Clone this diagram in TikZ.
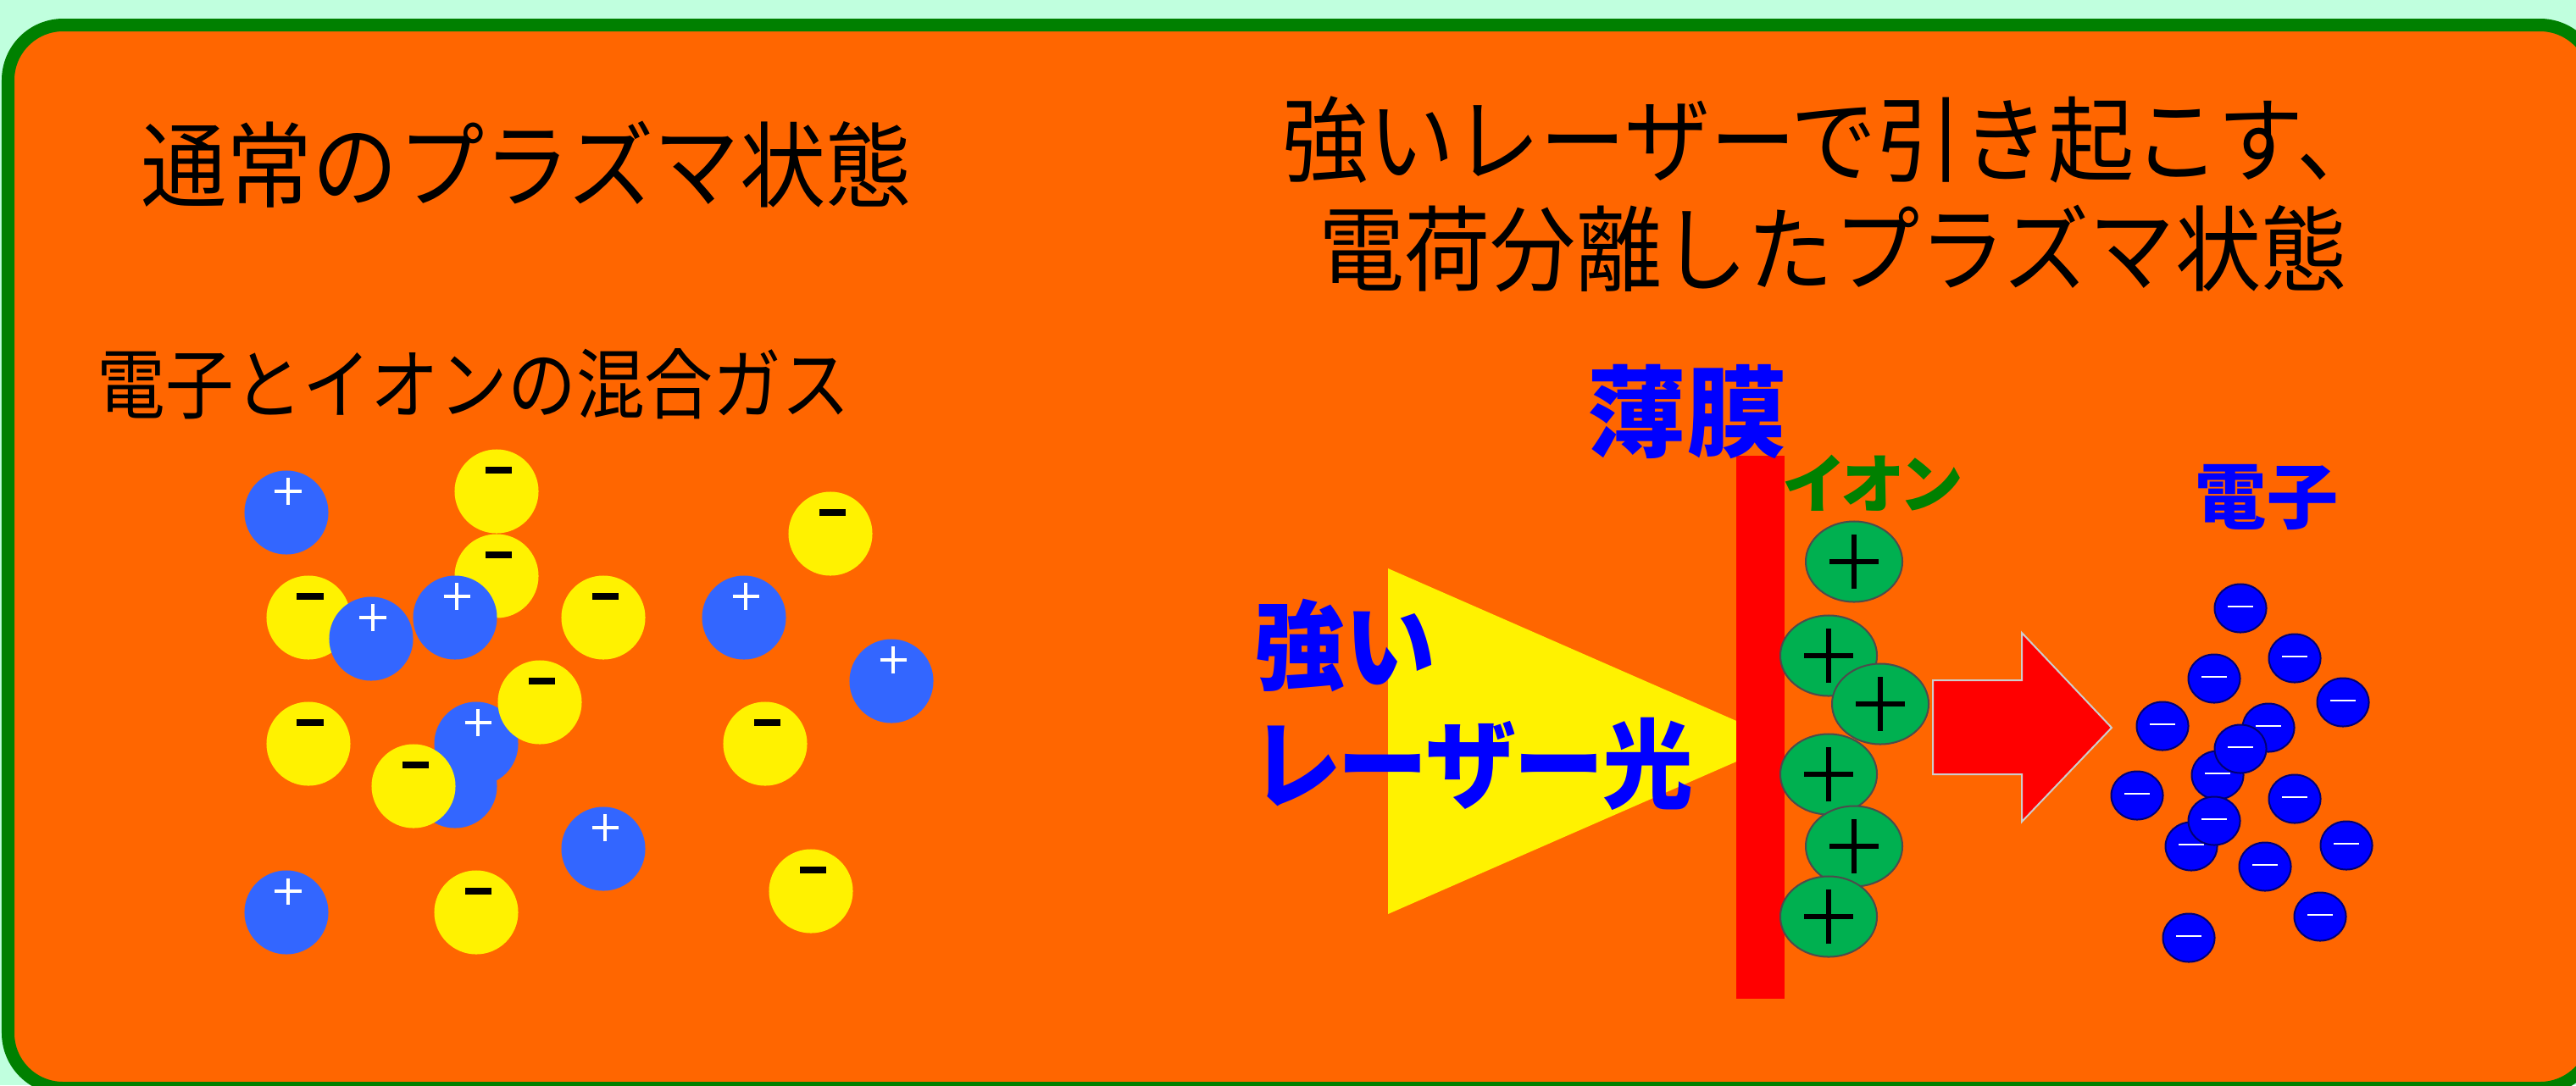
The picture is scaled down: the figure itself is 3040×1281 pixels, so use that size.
\documentclass[tikz,border=0pt]{standalone}
\usepackage{fontspec}
\usetikzlibrary{shapes.geometric}

\newfontfamily\jptitle[FakeStretch=0.92]{Noto Sans CJK JP}
\newfontfamily\jpsub[FakeStretch=0.89]{Noto Sans CJK JP}
\newfontfamily\jplabel[RawFeature=+palt]{Noto Sans CJK JP}
\newfontfamily\jpnarrow[RawFeature=+palt, FakeStretch=0.93]{Noto Sans CJK JP}

\definecolor{mint}{RGB}{192,255,222}
\definecolor{panel}{RGB}{255,102,0}
\definecolor{rim}{RGB}{0,128,0}
\definecolor{plusblue}{RGB}{51,102,255}
\definecolor{ionfill}{RGB}{0,176,80}
\definecolor{elecblue}{RGB}{0,0,255}
\definecolor{arrowrim}{RGB}{205,205,205}

\tikzset{
  particle/.style={circle, minimum size=0.99cm, inner sep=0pt},
  cation/.style={particle, fill=plusblue, path picture={
      \draw[white, line width=0.04cm]
        ([xshift=0.02cm,yshift=0.25cm]path picture bounding box.center) +(-0.155cm,0) -- +(0.155cm,0)
        ([xshift=0.02cm,yshift=0.25cm]path picture bounding box.center) +(0,-0.155cm) -- +(0,0.155cm);}},
  anion/.style={particle, fill=yellow, path picture={
      \fill[black] ([xshift=0.02cm,yshift=0.25cm]path picture bounding box.center)
        +(-0.155cm,-0.036cm) rectangle +(0.155cm,0.036cm);}},
  ion/.style={ellipse, minimum width=1.14cm, minimum height=0.95cm, inner sep=0pt,
      fill=ionfill, draw=black!70, line width=0.02cm, path picture={
      \draw[black, line width=0.065cm]
        (path picture bounding box.center) +(-0.29cm,0) -- +(0.29cm,0)
        (path picture bounding box.center) +(0,-0.32cm) -- +(0,0.32cm);}},
  electron/.style={ellipse, minimum width=0.61cm, minimum height=0.57cm, inner sep=0pt,
      fill=elecblue, draw=blue!45!black, line width=0.02cm, path picture={
      \draw[white, line width=0.025cm]
        ([yshift=0.02cm]path picture bounding box.center) +(-0.15cm,0) -- +(0.15cm,0);}},
  heading/.style={inner sep=0pt, font=\jptitle\fontsize{31.3pt}{36.7pt}\selectfont},
  tag/.style={inner sep=0pt, font=\jplabel\bfseries},
}

\begin{document}
\begin{tikzpicture}[x=0.01cm, y=-0.01cm]
  \clip (0,0) rectangle (3040,1281);
  \fill[mint] (0,0) rectangle (3040,1281);
  \draw[fill=panel, draw=rim, line width=0.15cm, rounded corners=0.65cm]
    (9.5,29.5) rectangle (3062.5,1284.5);

  % left half: ordinary plasma
  \node[heading] (titleL) at (621,194) {通常のプラズマ状態};
  \node[inner sep=0pt, font=\jpsub\fontsize{25.8pt}{30pt}\selectfont] (gas) at (559,453)
    {電子とイオンの混合ガス};

  \node[cation] (c1) at (338,605) {};
  \node[anion] (a1) at (586,580) {};
  \node[anion] (a2) at (586,680) {};
  \node[anion] (a3) at (980,630) {};
  \node[anion] (a4) at (364,729) {};
  \node[cation] (c2) at (438,754) {};
  \node[cation] (c3) at (537,729) {};
  \node[anion] (a5) at (712,729) {};
  \node[cation] (c4) at (878,729) {};
  \node[cation] (c5) at (1052,804) {};
  \node[cation] (c7) at (537,928) {};
  \node[cation] (c6) at (562,878) {};
  \node[anion] (a6) at (637,829) {};
  \node[anion] (a7) at (364,878) {};
  \node[anion] (a8) at (488,928) {};
  \node[anion] (a9) at (903,878) {};
  \node[cation] (c8) at (712,1002) {};
  \node[anion] (a10) at (957,1052) {};
  \node[cation] (c9) at (338,1077) {};
  \node[anion] (a11) at (562,1077) {};

  % right half: charge separation by the laser
  \node[heading, align=center] (titleR) at (2163,229)
    {強いレーザーで引き起こす、\\電荷分離したプラズマ状態};

  \fill[yellow] (1638,671) -- (2104,875) -- (1638,1079) -- cycle;
  \fill[red] (2049,538) rectangle (2106,1179);

  \node[tag, text=elecblue, font=\jpnarrow\bfseries\fontsize{32.7pt}{39.8pt}\selectfont,
        align=left, anchor=west] (laser) at (1480,832) {強い\\レーザー光};
  \node[tag, text=elecblue, font=\jplabel\bfseries\fontsize{33.3pt}{40pt}\selectfont]
    (film) at (1991,486) {薄膜};
  \node[tag, text=rim, font=\jplabel\bfseries\fontsize{21.5pt}{26pt}\selectfont]
    (ionlbl) at (2210,570) {イオン};
  \node[tag, text=elecblue, font=\jplabel\bfseries\fontsize{23.9pt}{28pt}\selectfont]
    (elbl) at (2675,587) {電子};

  \node[ion] (i1) at (2188,663) {};
  \node[ion] (i2) at (2158,774) {};
  \node[ion] (i3) at (2219,831) {};
  \node[ion] (i4) at (2158,914) {};
  \node[ion] (i5) at (2188,999) {};
  \node[ion] (i6) at (2158,1082) {};

  \filldraw[fill=red, draw=arrowrim, line width=0.02cm]
    (2281,803) -- (2386,803) -- (2386,747) -- (2492,859)
    -- (2386,970) -- (2386,914) -- (2281,914) -- cycle;

  \node[electron] (e1) at (2644,718) {};
  \node[electron] (e2) at (2708,777) {};
  \node[electron] (e3) at (2613,801) {};
  \node[electron] (e4) at (2765,829) {};
  \node[electron] (e5) at (2552,857) {};
  \node[electron] (e6) at (2677,859) {};
  \node[electron] (e8) at (2617,915) {};
  \node[electron] (e7) at (2644,884) {};
  \node[electron] (e9) at (2522,939) {};
  \node[electron] (e10) at (2708,943) {};
  \node[electron] (e12) at (2586,999) {};
  \node[electron] (e11) at (2613,969) {};
  \node[electron] (e13) at (2769,998) {};
  \node[electron] (e14) at (2673,1023) {};
  \node[electron] (e15) at (2738,1082) {};
  \node[electron] (e16) at (2583,1107) {};
\end{tikzpicture}
\end{document}
